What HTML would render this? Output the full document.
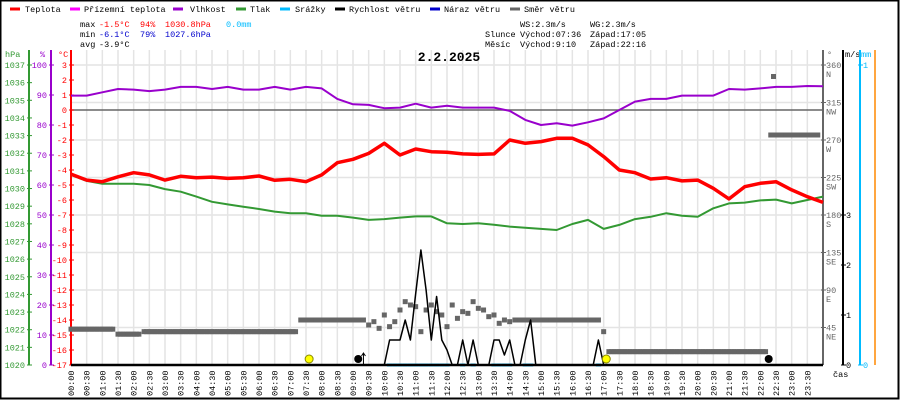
<!DOCTYPE html>
<html><head><meta charset="utf-8"><style>
html,body{margin:0;padding:0;background:#fff}
#wrap{position:relative;width:900px;height:400px;overflow:hidden}
svg text{font-family:"Liberation Mono","DejaVu Sans Mono",monospace;font-size:8.5px}
</style></head><body>
<div id="wrap">
<svg id="chart" width="900" height="400" xmlns="http://www.w3.org/2000/svg">
<rect x="0.5" y="0.5" width="898" height="398" fill="#fff" stroke="#000" stroke-width="2"/>
<g id="grid"></g>
<g id="legend">
 <line x1="10" y1="9" x2="20" y2="9" stroke="#f00" stroke-width="3"/><text x="25" y="12">Teplota</text>
 <line x1="70" y1="9" x2="80" y2="9" stroke="#f0f" stroke-width="3"/><text x="84" y="12">Přízemní teplota</text>
 <line x1="173" y1="9" x2="183" y2="9" stroke="#90c" stroke-width="3"/><text x="190" y="12">Vlhkost</text>
 <line x1="236" y1="9" x2="246" y2="9" stroke="#393" stroke-width="3"/><text x="250" y="12">Tlak</text>
 <line x1="280" y1="9" x2="290" y2="9" stroke="#0bf" stroke-width="3"/><text x="295" y="12">Srážky</text>
 <line x1="335" y1="9" x2="345" y2="9" stroke="#000" stroke-width="3"/><text x="349" y="12">Rychlost větru</text>
 <line x1="430" y1="9" x2="440" y2="9" stroke="#00c" stroke-width="3"/><text x="444" y="12">Náraz větru</text>
 <line x1="510" y1="9" x2="520" y2="9" stroke="#666" stroke-width="3"/><text x="524" y="12">Směr větru</text>
</g>
<g id="stats">
 <text x="80" y="27">max</text><text x="99" y="27" fill="#f00">-1.5°C</text><text x="140" y="27" fill="#f00">94%</text><text x="165" y="27" fill="#f00">1030.8hPa</text><text x="226" y="27" fill="#0bf">0.0mm</text>
 <text x="80" y="37">min</text><text x="99" y="37" fill="#00c">-6.1°C</text><text x="140" y="37" fill="#00c">79%</text><text x="165" y="37" fill="#00c">1027.6hPa</text>
 <text x="80" y="47">avg</text><text x="99" y="47">-3.9°C</text>
 <text x="520" y="27">WS:2.3m/s</text><text x="590" y="27">WG:2.3m/s</text>
 <text x="485" y="37">Slunce</text><text x="520" y="37">Východ:07:36</text><text x="590" y="37">Západ:17:05</text>
 <text x="485" y="47">Měsíc</text><text x="520" y="47">Východ:9:10</text><text x="590" y="47">Západ:22:16</text>
</g>
<text x="449" y="61" text-anchor="middle" style="font-size:13px;font-weight:bold">2.2.2025</text>
<g id="axes"></g>
<g id="series"></g>
</svg>
</div>
<script>
// ---- data (30-min steps, 00:00..24:00) ----
const timeLabels = ["00:00","00:30","01:00","01:30","02:00","02:30","03:00","03:30","04:00","04:30","05:00","05:30","06:00","06:30","07:00","07:30","08:00","08:30","09:00","09:30","10:00","10:30","11:00","11:30","12:00","12:30","13:00","13:30","14:00","14:30","15:00","15:30","16:00","16:30","17:00","17:30","18:00","18:30","19:00","19:30","20:00","20:30","21:00","21:30","22:00","22:30","23:00","23:30"];
const temperature = [-4.27,-4.67,-4.78,-4.45,-4.18,-4.33,-4.67,-4.42,-4.51,-4.47,-4.56,-4.51,-4.4,-4.69,-4.62,-4.78,-4.33,-3.51,-3.29,-2.89,-2.22,-3.0,-2.6,-2.78,-2.82,-2.93,-2.96,-2.93,-2.0,-2.22,-2.11,-1.89,-1.89,-2.33,-3.11,-4.0,-4.18,-4.6,-4.51,-4.73,-4.67,-5.22,-5.93,-5.11,-4.89,-4.78,-5.33,-5.78,-6.16];
const humidity = [89.8,89.8,90.9,92,91.8,91.3,91.8,92.7,92.7,92,92.7,91.8,91.8,92.7,91.8,92.7,92.2,88.7,86.9,86.7,85.6,85.8,87.1,85.8,86.4,85.8,85.8,85.8,84.7,81.7,80,80.6,79.8,80.9,82.2,85,87.8,88.7,88.7,89.8,89.8,89.8,92,91.8,92.2,92.7,92.7,93,92.9];
const pressure = [1030.77,1030.43,1030.27,1030.27,1030.27,1030.2,1029.97,1029.82,1029.54,1029.25,1029.1,1028.97,1028.84,1028.69,1028.6,1028.6,1028.46,1028.46,1028.35,1028.22,1028.27,1028.35,1028.42,1028.42,1028.03,1027.99,1028.03,1027.95,1027.84,1027.78,1027.71,1027.65,1027.99,1028.22,1027.71,1027.94,1028.27,1028.4,1028.6,1028.46,1028.4,1028.88,1029.16,1029.2,1029.33,1029.37,1029.16,1029.35,1029.54];
// wind speed m/s, 10-min steps from 10:00 to 17:10
const windStart = 600;
const windSpeed = [0,0.5,0.5,0.5,0.9,0.5,1.43,2.3,1.5,0.5,1.37,0.5,0.3,0,0,0.5,0,0.5,0,0,0,0.5,0.5,0.2,0.5,0,0,0.5,0.9,0,0,0,0,0,0,0,0,0,0,0,0,0.5,0,0];
// wind direction degrees, 10-min steps 00:00..24:00 (null = none)
const windDir = [43,43,43,43,43,43,43,43,43,37,37,37,37,37,40,40,40,40,40,40,40,40,40,40,40,40,40,40,40,40,40,40,40,40,40,40,40,40,40,40,40,40,40,40,54,54,54,54,54,54,54,54,54,54,54,54,54,48,52,44,60,46,52,66,76,72,70,40,66,72,64,60,46,72,56,64,62,76,68,66,58,60,50,54,52,54,54,54,54,54,54,54,54,54,54,54,54,54,54,54,54,54,40,16,16,16,16,16,16,16,16,16,16,16,16,16,16,16,16,16,16,16,16,16,16,16,16,16,16,16,16,16,16,16,276,276,276,276,276,276,276,276,276,276];
const hpaTicks = [1020,1021,1022,1023,1024,1025,1026,1027,1028,1029,1030,1031,1032,1033,1034,1035,1036,1037];
const humTicks = [0,10,20,30,40,50,60,70,80,90,100];
const tempTicks = [3,2,1,0,-1,-2,-3,-4,-5,-6,-7,-8,-9,-10,-11,-12,-13,-14,-15,-16,-17];
const dirTicks = [45,90,135,180,225,270,315,360];
const dirNames = ["NE","E","SE","S","SW","W","NW","N"];
const msTicks = [0,1,2,3];
const mmTicks = [0,1];
const sunEvents = [456,1025];
const moonEvents = [550,1336];

// ---- scales ----
const X0=71, X1=823, Y0=65, Y1=365;
const xT = m => X0 + m*(X1-X0)/1440;
const yTemp = t => Y0 + (3-t)*(Y1-Y0)/20;
const yHum = h => Y1 - h*(Y1-Y0)/100;
const yHpa = p => Y1 - (p-1020)*(Y1-Y0)/17;
const yDir = d => Y1 - d*(Y1-Y0)/360;
const yMs = v => Y1 - v*50;
const yMm = v => Y1 - v*(Y1-Y0);
const NS="http://www.w3.org/2000/svg";
function mk(parent,tag,attrs,text){const e=document.createElementNS(NS,tag);for(const k in attrs)e.setAttribute(k,attrs[k]);if(text!==undefined)e.textContent=text;parent.appendChild(e);return e;}
const grid=document.getElementById('grid'), axes=document.getElementById('axes'), series=document.getElementById('series');

// grid
timeLabels.forEach((l,i)=>{const x=xT(i*30);const g=mk(grid,'line',{x1:x,y1:50,x2:x,y2:Y1,stroke:'#e4e4e4','stroke-width':1.5});

});
dirTicks.forEach(d=>{const y=yDir(d);const g=mk(grid,'line',{x1:X0,y1:y,x2:X1,y2:y,stroke:'#e4e4e4','stroke-width':1.5});

});
const zl=mk(grid,'line',{x1:X0,y1:yTemp(0),x2:X1,y2:yTemp(0),stroke:'#666','stroke-width':1.5});



// left axes
function vaxis(x,color,unit,ux,name){const l=mk(axes,'line',{x1:x,y1:50,x2:x,y2:Y1,stroke:color,'stroke-width':2});


mk(axes,'text',{x:ux,y:57,fill:color},unit);}
vaxis(29,'#393','hPa',5,'hpa-axis');
vaxis(51,'#90c','%',40,'humidity-axis');
vaxis(71,'#f00','°C',58,'temp-axis');
hpaTicks.forEach(p=>{const y=yHpa(p);mk(axes,'line',{x1:27,y1:y,x2:32,y2:y,stroke:'#393'});const t=mk(axes,'text',{x:25,y:y+3,fill:'#393','text-anchor':'end'},p);

});
humTicks.forEach(h=>{const y=yHum(h);mk(axes,'line',{x1:49,y1:y,x2:54,y2:y,stroke:'#90c'});const t=mk(axes,'text',{x:47,y:y+3,fill:'#90c','text-anchor':'end'},h);

});
tempTicks.forEach(v=>{const y=yTemp(v);mk(axes,'line',{x1:69,y1:y,x2:74,y2:y,stroke:'#f00'});const t=mk(axes,'text',{x:67,y:y+3,fill:'#f00','text-anchor':'end'},v);

});

// right axes
vaxis(823,'#666','°',827,'direction-axis');
vaxis(843,'#000','m/s',845,'wind-axis');
vaxis(860,'#0bf','mm',861,'precip-axis');
const oa=mk(axes,'line',{x1:875,y1:50,x2:875,y2:Y1,stroke:'#f80','stroke-width':1.5});


dirTicks.forEach((d,i)=>{const y=yDir(d);mk(axes,'line',{x1:821,y1:y,x2:826,y2:y,stroke:'#666'});const t=mk(axes,'text',{x:826,y:y+3,fill:'#666'},d);


mk(axes,'text',{x:826,y:y+12,fill:'#666'},dirNames[i]);});
msTicks.forEach(v=>{const y=yMs(v);mk(axes,'line',{x1:841,y1:y,x2:846,y2:y,stroke:'#000'});const t=mk(axes,'text',{x:846,y:y+3},v);

});
mmTicks.forEach(v=>{const y=yMm(v);mk(axes,'line',{x1:858,y1:y,x2:863,y2:y,stroke:'#0bf'});const t=mk(axes,'text',{x:863,y:y+3,fill:'#0bf'},v);

});
mk(axes,'text',{x:833,y:377},'čas');
timeLabels.forEach((l,i)=>{const x=xT(i*30);const t=mk(axes,'text',{transform:`translate(${x+3},396) rotate(-90)`},l);

});

// series
function poly(vals,step,yf,color,w,name,start){const pts=vals.map((v,i)=>`${xT((start||0)+i*step).toFixed(1)},${yf(v).toFixed(1)}`).join(' ');
const p=mk(series,'polyline',{points:pts,fill:'none',stroke:color,'stroke-width':w,'stroke-linejoin':'round'});

}

// wind direction
windDir.forEach((d,i)=>{if(d===null)return;const x=xT(i*10),y=yDir(d);
const nd=windDir[i+1];
if(nd!==undefined&&nd!==null&&Math.abs(nd-d)<=1){const l=mk(series,'line',{x1:x,y1:y,x2:xT((i+1)*10),y2:yDir(nd),stroke:'#666','stroke-width':5});

}
const r=mk(series,'rect',{x:x-2.5,y:y-2.5,width:5,height:5,fill:'#666'});

});
const stray=mk(series,'rect',{x:771,y:74,width:5,height:5,fill:'#666'});



// precipitation (0 mm where measured)
windSpeed.forEach((v,i)=>{if(v>0){const l=mk(series,'line',{x1:xT(windStart+i*10-5),y1:Y1,x2:xT(windStart+i*10+5),y2:Y1,stroke:'#0bf','stroke-width':3});

}});
const base=mk(series,'line',{x1:X0,y1:Y1,x2:X1,y2:Y1,stroke:'#000','stroke-width':2.5});


poly(windSpeed,10,yMs,'#000',1.5,'wind-speed-line',windStart);

poly(pressure,30,yHpa,'#393',2,'pressure-line');
poly(humidity,30,yHum,'#90c',2,'humidity-line');
poly(temperature,30,yTemp,'#f00',3.5,'temperature-line');

sunEvents.forEach(m=>{const c=mk(series,'circle',{cx:xT(m),cy:359,r:4,fill:'#ff0',stroke:'#880','stroke-width':1});

});
moonEvents.forEach(m=>{const c=mk(series,'circle',{cx:xT(m),cy:359,r:4,fill:'#000'});

});
mk(series,'path',{d:`M${xT(560)},364 V353 M${xT(560)-2},356 L${xT(560)},353 L${xT(560)+2},356`,stroke:'#000',fill:'none','stroke-width':1});
</script>
</body></html>
